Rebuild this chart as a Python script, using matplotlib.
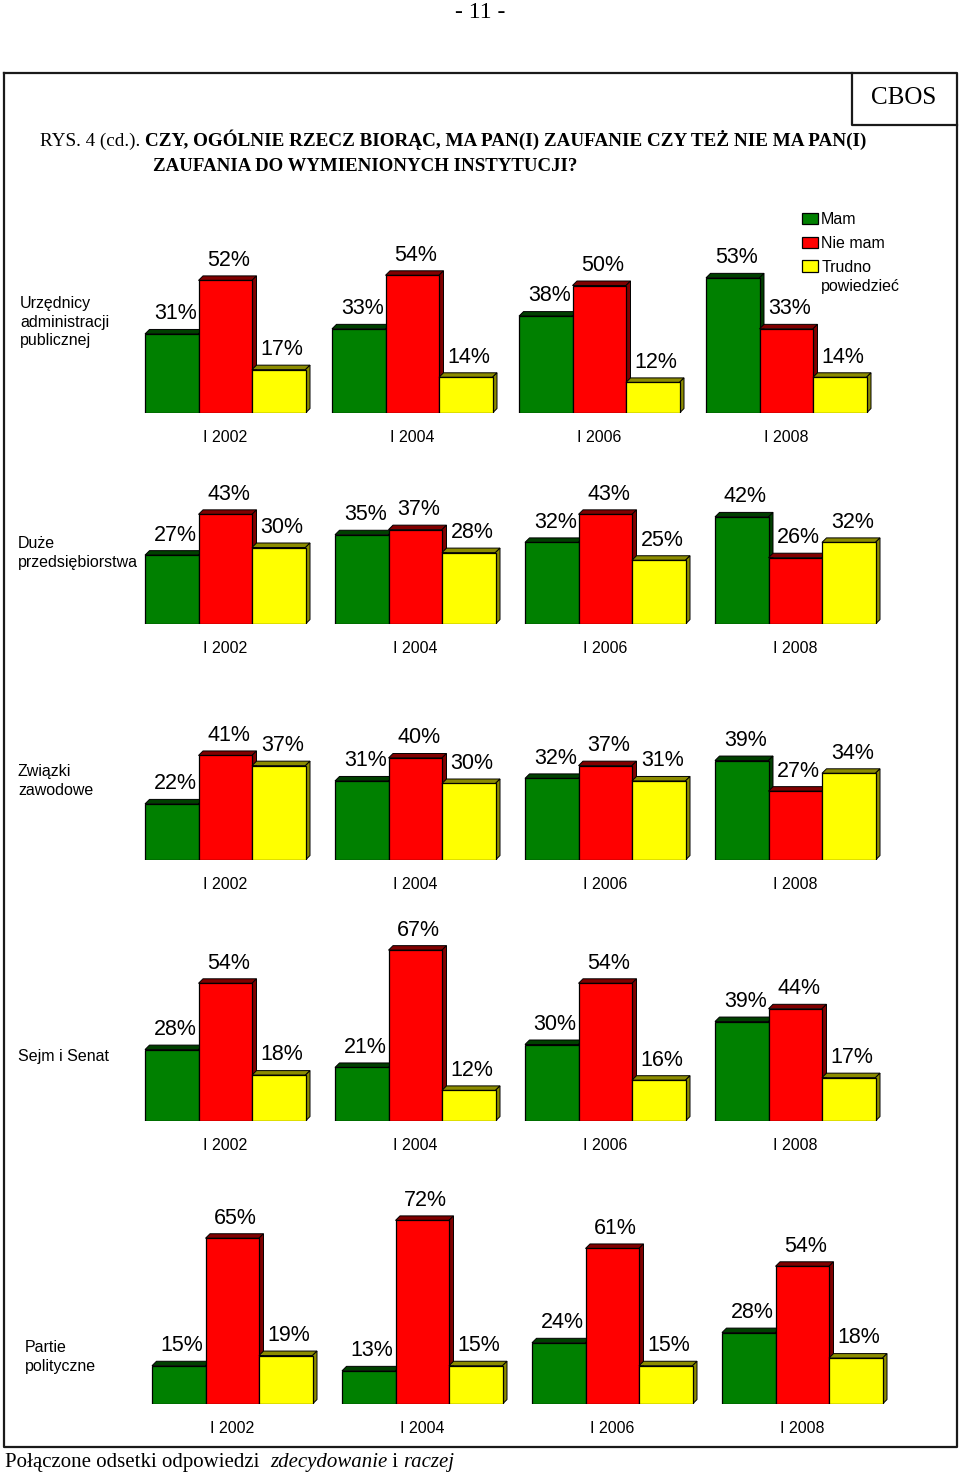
import matplotlib
matplotlib.use("Agg")
import matplotlib.pyplot as plt
from matplotlib.patches import Polygon
from matplotlib.text import Annotation

# ---------------- data ----------------
years = ["I 2002", "I 2004", "I 2006", "I 2008"]
series_names = ["Mam", "Nie mam", "Trudno\npowiedzieć"]
institutions = ["Urzędnicy\nadministracji\npublicznej",
                "Duże\nprzedsiębiorstwa",
                "Związki\nzawodowe",
                "Sejm i Senat",
                "Partie\npolityczne"]
mam = [[31, 33, 38, 53],
       [27, 35, 32, 42],
       [22, 31, 32, 39],
       [28, 21, 30, 39],
       [15, 13, 24, 28]]
nie_mam = [[52, 54, 50, 33],
           [43, 37, 43, 26],
           [41, 40, 37, 27],
           [54, 67, 54, 44],
           [65, 72, 61, 54]]
trudno = [[17, 14, 12, 14],
          [30, 28, 25, 32],
          [37, 30, 31, 34],
          [18, 12, 16, 17],
          [19, 15, 15, 18]]

# ---------------- style / layout ----------------
W, H, DPI = 960, 1476, 100
SANS = ['Liberation Sans', 'DejaVu Sans']
SERIF = ['Liberation Serif', 'DejaVu Serif']
face = ['#008000', '#FF0000', '#FFFF00']
dark = ['#004000', '#800000', '#8C8C00']

base_px = [413, 624, 860, 1121, 1404]
left_px = [145, 145, 145, 145, 152]
step_px = [187, 190, 190, 190, 190]
lab_y_px = [322, 553, 781, 1056, 1357]
lab_x_px = [20, 18, 18, 18, 25]
bar_px = 53.5
scale = 2.55      # px per percent
depth = 4.5       # px 3D depth
ax_h_px = 215

fig = plt.figure(figsize=(W / DPI, H / DPI), dpi=DPI)
bg = fig.add_axes([0, 0, 1, 1])
bg.set_xlim(0, W)
bg.set_ylim(H, 0)
bg.axis('off')

# frame and CBOS box
fkw = dict(color='#1a1a1a', lw=1.6, solid_capstyle='projecting')
bg.plot([4, 957, 957, 4, 4], [73, 73, 1447, 1447, 73], **fkw)
bg.plot([852, 852, 957], [73, 125, 125], **fkw)
bg.text(904, 98, "CBOS", family=SERIF, fontsize=18, ha='center', va='center')
bg.text(480, 12, "- 11 -", family=SERIF, fontsize=17, ha='center', va='center')

# title
TS = 13.8
t1 = bg.text(40, 146, "RYS. 4 (cd.). ", family=SERIF, fontsize=TS, va='baseline')
bg.annotate("CZY, OGÓLNIE RZECZ BIORĄC, MA PAN(I) ZAUFANIE CZY TEŻ NIE MA PAN(I)",
            xy=(1, 0), xycoords=t1, va='bottom', ha='left',
            family=SERIF, fontsize=TS, fontweight='bold')
bg.text(153, 171, "ZAUFANIA DO WYMIENIONYCH INSTYTUCJI?", family=SERIF,
        fontsize=13.6, fontweight='bold', va='baseline')

# footnote
FS = 15
f1 = bg.text(5, 1467, "Połączone odsetki odpowiedzi  ", family=SERIF, fontsize=FS, va='baseline')
f2 = bg.annotate("zdecydowanie", xy=(1, 0), xycoords=f1, va='bottom', ha='left',
                 family=SERIF, fontsize=FS, style='italic')
f3 = bg.annotate(" i ", xy=(1, 0), xycoords=f2, va='bottom', ha='left',
                 family=SERIF, fontsize=FS)
bg.annotate("raczej", xy=(1, 0), xycoords=f3, va='bottom', ha='left',
            family=SERIF, fontsize=FS, style='italic')

legend_handles = None
for k in range(len(institutions)):
    left, step, base = left_px[k], step_px[k], base_px[k]
    c0 = left + 1.5 * bar_px
    axL = left - 20
    axR = left + 4 * step
    ax = fig.add_axes([axL / W, 1 - base / H, (axR - axL) / W, ax_h_px / H])
    ax.set_xlim((axL - c0) / step, (axR - c0) / step)
    ax.set_ylim(0, ax_h_px / scale)
    ax.patch.set_alpha(0)
    for s in ax.spines.values():
        s.set_visible(False)
    ax.set_yticks([])
    ax.set_xticks(range(len(years)))
    ax.set_xticklabels(years, fontsize=11.5, family=SANS)
    ax.tick_params(axis='x', length=0, pad=12.5)

    bw = bar_px / step
    dx = depth / step
    dy = depth / scale
    handles = []
    for j, vals in enumerate([mam[k], nie_mam[k], trudno[k]]):
        xs = [i + (j - 1) * bw for i in range(len(years))]
        bars = ax.bar(xs, vals, width=bw, color=face[j], edgecolor='black',
                      linewidth=0.9, zorder=3 + 2 * j)
        handles.append(bars)
        for x, v in zip(xs, vals):
            x0, x1 = x - bw / 2, x + bw / 2
            top = Polygon([(x0, v), (x0 + dx, v + dy), (x1 + dx, v + dy), (x1, v)],
                          closed=True, facecolor=dark[j], edgecolor='black',
                          linewidth=0.7, zorder=2 + 2 * j)
            side = Polygon([(x1, 0), (x1 + dx, dy), (x1 + dx, v + dy), (x1, v)],
                           closed=True, facecolor=dark[j], edgecolor='black',
                           linewidth=0.7, zorder=2 + 2 * j)
            ax.add_patch(top)
            ax.add_patch(side)
            ax.annotate(f"{v}%", xy=(x, v), xytext=(2.5, 14.5),
                        textcoords='offset points', ha='center', va='center',
                        fontsize=15.5, family=SANS, zorder=10)
    if k == 0:
        legend_handles = handles

    bg.text(lab_x_px[k], lab_y_px[k], institutions[k], family=SANS, fontsize=11.5,
            ha='left', va='center', linespacing=1.3)

# legend: handle aligned with the first line of each label
first_lines = [s.split("\n")[0] for s in series_names]
leg = fig.legend(legend_handles, first_lines, loc='upper left',
                 bbox_to_anchor=(802 / W, 1 - 212 / H), bbox_transform=fig.transFigure,
                 frameon=False, prop={'family': SANS, 'size': 11.5},
                 handlelength=1.0, handleheight=0.7, handletextpad=0.2,
                 labelspacing=0.55, borderpad=0, borderaxespad=0)
for txt, full in zip(leg.get_texts(), series_names):
    rest = full.split("\n")[1:]
    if rest:
        ann = Annotation("\n".join(rest), xy=(0, 0), xycoords=txt, xytext=(0, -3.5),
                         textcoords='offset points', va='top', ha='left',
                         family=SANS, fontsize=11.5)
        ann.set_zorder(10)
        fig.add_artist(ann)

fig.savefig("out.png", dpi=DPI)
